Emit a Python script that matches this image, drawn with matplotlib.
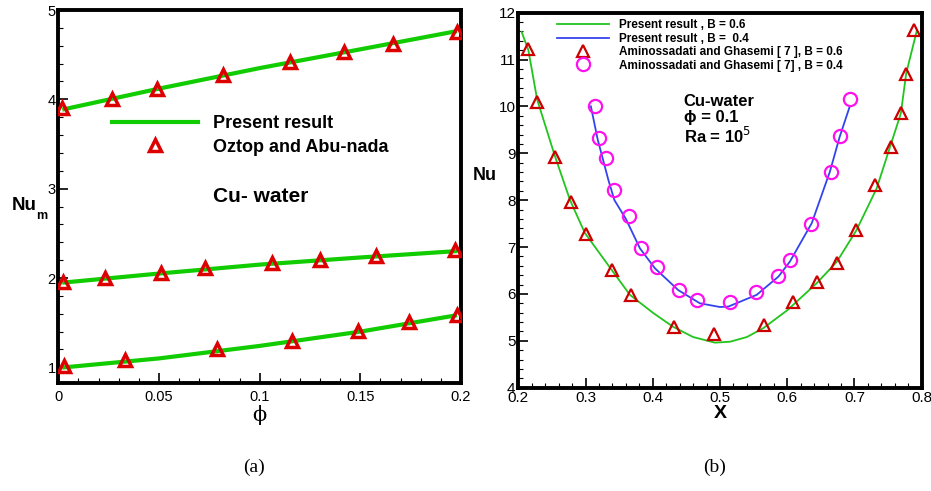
import matplotlib
matplotlib.use("Agg")
import matplotlib.pyplot as plt
from matplotlib.ticker import MultipleLocator

plt.rcParams['font.family'] = ['Liberation Sans', 'DejaVu Sans']

# ---- (a) mean Nusselt number vs volume fraction ----
phi_line = [0.003, 0.05, 0.1, 0.15, 0.197]
nu_line_top = [3.89, 4.12, 4.35, 4.56, 4.76]
nu_line_mid = [1.95, 2.05, 2.15, 2.23, 2.30]
nu_line_bot = [1.00, 1.10, 1.24, 1.40, 1.58]

phi_top = [0.002, 0.0265, 0.049, 0.082, 0.115, 0.142, 0.166, 0.198]
nu_top = [3.90, 4.00, 4.12, 4.27, 4.42, 4.53, 4.62, 4.75]
phi_mid = [0.0025, 0.023, 0.051, 0.073, 0.106, 0.130, 0.158, 0.197]
nu_mid = [1.96, 2.00, 2.06, 2.11, 2.17, 2.20, 2.25, 2.31]
phi_bot = [0.003, 0.033, 0.079, 0.116, 0.149, 0.174, 0.198]
nu_bot = [1.01, 1.08, 1.20, 1.30, 1.41, 1.51, 1.59]

# ---- (b) local Nusselt number along the heater ----
x_b06 = [0.205, 0.215, 0.228, 0.254, 0.277, 0.299, 0.339, 0.366, 0.40, 0.430, 0.46,
         0.4925, 0.515, 0.54, 0.5645, 0.60, 0.644, 0.674, 0.703, 0.733, 0.753,
         0.769, 0.777, 0.793]
nu_b06 = [11.59, 11.2, 10.15, 8.96, 8.0, 7.30, 6.51, 5.98, 5.60, 5.30, 5.08,
          4.96, 4.98, 5.08, 5.27, 5.65, 6.23, 6.69, 7.36, 8.25, 9.14,
          9.85, 10.71, 11.63]
x_b04 = [0.308, 0.318, 0.334, 0.343, 0.36, 0.381, 0.403, 0.438, 0.470, 0.50, 0.5125,
         0.5546, 0.587, 0.604, 0.6365, 0.6635, 0.678, 0.693]
nu_b04 = [10.0, 9.30, 8.43, 8.0, 7.6, 6.97, 6.55, 6.08, 5.80, 5.72, 5.73,
          5.98, 6.37, 6.69, 7.51, 8.61, 9.35, 10.0]

x_ref06 = [0.215, 0.228, 0.254, 0.278, 0.301, 0.339, 0.368, 0.431, 0.491, 0.565,
           0.608, 0.645, 0.674, 0.702, 0.731, 0.754, 0.769, 0.776, 0.789]
nu_ref06 = [11.22, 10.10, 8.93, 7.97, 7.27, 6.50, 5.98, 5.29, 5.14, 5.33,
            5.82, 6.26, 6.66, 7.36, 8.32, 9.14, 9.85, 10.70, 11.64]
x_ref04 = [0.314, 0.3205, 0.331, 0.342, 0.364, 0.382, 0.406, 0.439, 0.466, 0.515,
           0.553, 0.587, 0.604, 0.636, 0.665, 0.678, 0.693]
nu_ref04 = [10.01, 9.32, 8.89, 8.22, 7.66, 6.97, 6.58, 6.08, 5.86, 5.83,
            6.05, 6.38, 6.72, 7.50, 8.61, 9.37, 10.15]

fig = plt.figure(figsize=(9.31, 4.91), dpi=100)
ax1 = fig.add_axes([0.0626, 0.2200, 0.4326, 0.7596])
ax2 = fig.add_axes([0.5567, 0.2105, 0.4333, 0.7637])

def style_axes(ax, fs, xpad):
    for s in ax.spines.values():
        s.set_linewidth(2.8)
    ax.tick_params(which='both', direction='in', top=False, right=False)
    ax.tick_params(which='major', length=7, width=1.2, labelsize=fs)
    ax.tick_params(which='minor', length=3.5, width=0.8)
    ax.tick_params(axis='y', pad=2)
    ax.tick_params(axis='x', pad=xpad)

# panel (a)
green = '#11cc00'
red = '#dd0000'
for xl, yl in [(phi_line, nu_line_top), (phi_line, nu_line_mid), (phi_line, nu_line_bot)]:
    ax1.plot(xl, yl, color=green, lw=3, zorder=2)
for xs, ys in [(phi_top, nu_top), (phi_mid, nu_mid), (phi_bot, nu_bot)]:
    ax1.plot(xs, ys, ls='none', marker='^', ms=8.5, mfc='none', mec=red, mew=2.5, zorder=3)

ax1.plot([], [], color=green, lw=3, label='Present result')
ax1.plot([], [], ls='none', marker='^', ms=8.5, mfc='none', mec=red, mew=2.5,
         label='Oztop and Abu-nada')
ax1.set_xlim(0, 0.2)
ax1.set_ylim(0.825, 5)
ax1.set_xticks([0, 0.05, 0.1, 0.15, 0.2], ['0', '0.05', '0.1', '0.15', '0.2'])
ax1.set_yticks([1, 2, 3, 4, 5], ['1', '2', '3', '4', '5'])
ax1.xaxis.set_minor_locator(MultipleLocator(0.01))
ax1.yaxis.set_minor_locator(MultipleLocator(0.2))
style_axes(ax1, 10.5, 5)
ax1.legend(loc='upper left', bbox_to_anchor=(0.115, 0.738), frameon=False,
           prop={'weight': 'bold', 'size': 13}, handlelength=4.8,
           handletextpad=0.8, labelspacing=0.38, borderaxespad=0)
ax1.text(0.385, 0.50, 'Cu- water', transform=ax1.transAxes, fontsize=15,
         fontweight='bold', va='center', ha='left')
ax1.text(0.5, -0.058, 'ϕ', transform=ax1.transAxes, fontsize=15,
         ha='center', va='top', family=['DejaVu Serif'])
fig.text(24 / 931, 1 - 205 / 491, 'Nu', fontsize=13.5, fontweight='bold',
         ha='center', va='center')
fig.text(42 / 931, 1 - 216 / 491, 'm', fontsize=9, fontweight='bold',
         ha='center', va='center')

# panel (b)
green2 = '#22c41e'
blue = '#3344ee'
magenta = '#ff11ee'
red2 = '#cc0000'
ax2.plot(x_b06, nu_b06, color=green2, lw=1.3, label='Present result , B = 0.6')
ax2.plot(x_b04, nu_b04, color=blue, lw=1.3, label='Present result , B =  0.4')
ax2.plot(x_ref06, nu_ref06, ls='none', marker='^', ms=8, mfc='none', mec=red2, mew=1.6,
         label='Aminossadati and Ghasemi [ 7 ], B = 0.6')
ax2.plot(x_ref04, nu_ref04, ls='none', marker='o', ms=9.5, mfc='none', mec=magenta, mew=1.6,
         label='Aminossadati and Ghasemi [ 7] , B = 0.4')
ax2.set_xlim(0.2, 0.8)
ax2.set_ylim(4, 12)
ax2.set_xticks([0.2, 0.3, 0.4, 0.5, 0.6, 0.7, 0.8],
               ['0.2', '0.3', '0.4', '0.5', '0.6', '0.7', '0.8'])
ax2.set_yticks(range(4, 13), [str(v) for v in range(4, 13)])
ax2.xaxis.set_minor_locator(MultipleLocator(0.02))
ax2.yaxis.set_minor_locator(MultipleLocator(0.2))
style_axes(ax2, 11, 2.5)
ax2.legend(loc='upper left', bbox_to_anchor=(0.085, 0.995), frameon=False,
           prop={'weight': 'bold', 'size': 8.5}, handlelength=4.4,
           handletextpad=0.8, labelspacing=0.12, borderaxespad=0)
ax2.text(0.41, 0.714, 'Cu-water\nϕ = 0.1\nRa = 10$^{5}$', transform=ax2.transAxes,
         fontsize=12, fontweight='bold', va='center', ha='left', linespacing=1.05)
ax2.text(0.5, -0.047, 'X', transform=ax2.transAxes, fontsize=14, fontweight='bold',
         ha='center', va='top')
fig.text(485 / 931, 1 - 176 / 491, 'Nu', fontsize=13, fontweight='bold',
         ha='center', va='center')

fig.text(254 / 931, 1 - 467 / 491, '(a)', fontsize=14, ha='center', va='center',
         family=['Liberation Serif'])
fig.text(715 / 931, 1 - 467 / 491, '(b)', fontsize=14, ha='center', va='center',
         family=['Liberation Serif'])

fig.savefig('out.png', dpi=100)
